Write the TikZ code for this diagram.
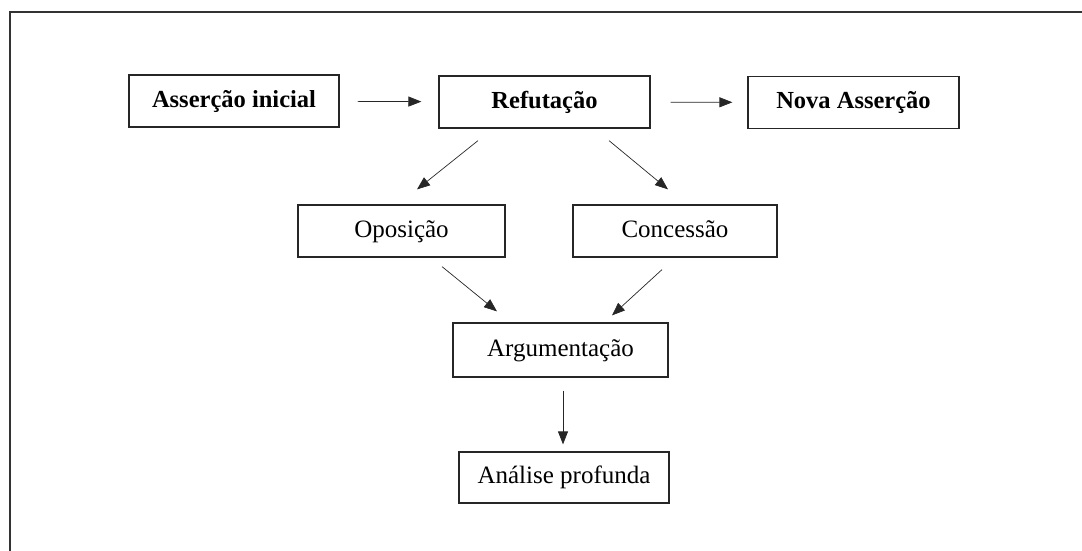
\documentclass[tikz,border=0pt]{standalone}
\usepackage{fontspec}
\setmainfont{Liberation Serif}
\usetikzlibrary{arrows.meta}
\usetikzlibrary{positioning}

\begin{document}
\begin{tikzpicture}[x=1pt,y=-1pt]
		\tikzset{box/.style = {shape=rectangle,draw=black!85,line width=1.2pt,minimum height=52pt,inner sep=0pt,text height=17pt,text depth=5pt,font=\fontsize{25}{30}\selectfont}}
		\tikzset{boldbox/.style = {box,font=\fontsize{24.5}{29}\selectfont\bfseries}}
		\tikzset{edge/.style = {-{Triangle[length=13pt,width=10pt]},line width=0.7pt,draw=black!85}}
		\useasboundingbox (0,0) rectangle (1082,551);
		% frame
		\draw[line width=1.2pt,black!80] (10,551) -- (10,12) -- (1082,12);
		% vertices
		\node[boldbox, minimum width=210pt] (a) at (234,101) {Asserção inicial};
		\node[boldbox, minimum width=211pt] (r) at (544.5,102) {Refutação};
		\node[boldbox, minimum width=211pt] (n) at (853.5,102.5) {Nova Asserção};
		
		\node[box, minimum width=207pt] (o) at (401.5,231) {Oposição};
		\node[box, minimum width=204pt] (c) at (675,231) {Concessão};
		
		\node[box, minimum width=215pt, minimum height=54pt] (g) at (560.5,350) {Argumentação};
		\node[box, minimum width=210pt, minimum height=51pt] (p) at (564,477.5) {Análise profunda};
		
		%edges
		\draw[edge, shorten <=18pt, shorten >=17pt] (a) -- (r);
		
		\draw[edge, shorten <=20pt, shorten >=15pt] (r) -- (n);
		
		\draw[edge] ([xshift=-66.5pt,yshift=-12pt]r.south) -- ([xshift=15.5pt,yshift=15pt]o.north);
		
		\draw[edge] ([xshift=64.5pt,yshift=-12pt]r.south) -- ([xshift=-7pt,yshift=15pt]c.north);
		
		\draw[edge] ([xshift=40.5pt,yshift=-9pt]o.south) -- ([xshift=-63.5pt,yshift=11pt]g.north);
		
		\draw[edge] ([xshift=-13pt,yshift=-12pt]c.south) -- ([xshift=51.5pt,yshift=7pt]g.north);
		
		\draw[edge] ([xshift=2.5pt,yshift=-13pt]g.south) -- ([xshift=-1pt,yshift=7pt]p.north);
		
\end{tikzpicture}
\end{document}
